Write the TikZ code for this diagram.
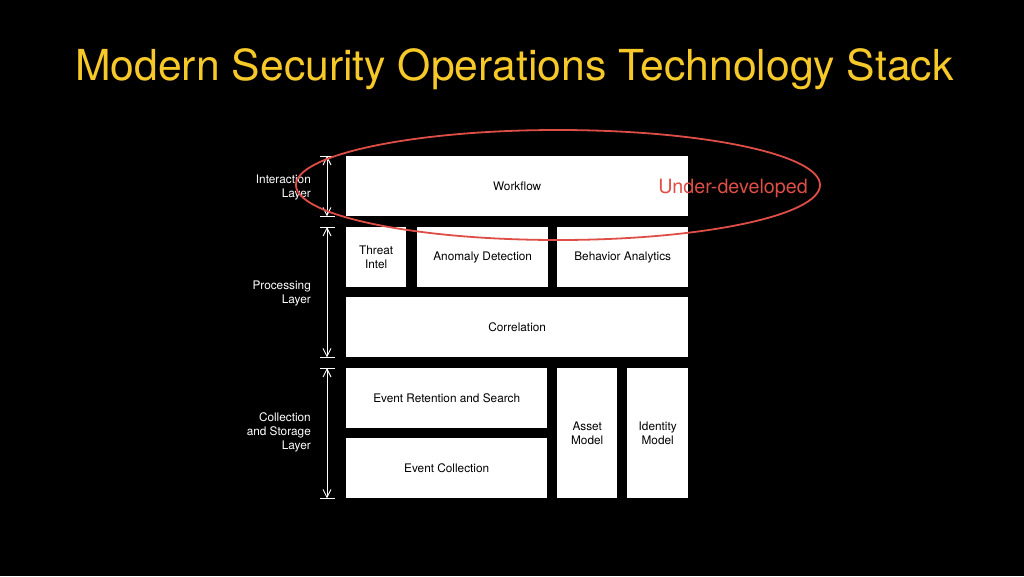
\documentclass[tikz,border=0pt]{standalone}
\usepackage{fontspec}
\setmainfont{TeX Gyre Heros}
\usetikzlibrary{arrows.meta}
\definecolor{titleyellow}{RGB}{247,201,40}
\definecolor{ovalred}{RGB}{222,78,70}
\begin{document}
\begin{tikzpicture}[x=1pt, y=-1pt,
    every node/.style={align=center, font=\fontsize{11.8}{14}\selectfont},
    block/.style={rectangle, fill=white, inner sep=0pt, anchor=north west},
    layerlabel/.style={text=white, anchor=east, align=right, inner sep=0pt},
    dimarrow/.style={draw=white, line width=0.9pt, {Straight Barb[length=8pt,width=8pt]}-{Straight Barb[length=8pt,width=8pt]}},
    dimtick/.style={draw=white, line width=0.9pt}]
    \fill[black] (0,0) rectangle (1024,576);

    % title
    \node (title) [anchor=base west, inner sep=0pt, text=titleyellow, font=\fontsize{42.7}{50}\selectfont] at (75,80) {Modern Security Operations Technology Stack};

    % stack blocks
    \node (wf) [block, minimum width=342pt, minimum height=60pt] at (346,156) {Workflow};
    \node (threat) [block, minimum width=60pt, minimum height=60pt] at (346,227) {Threat\\Intel};
    \node (anom) [block, minimum width=131pt, minimum height=60pt] at (417,227) {Anomaly Detection};
    \node (behav) [block, minimum width=131pt, minimum height=60pt] at (557,227) {Behavior Analytics};
    \node (corr) [block, minimum width=342pt, minimum height=60pt] at (346,297) {Correlation};
    \node (ret) [block, minimum width=201pt, minimum height=60pt] at (346,368) {Event Retention and Search};
    \node (coll) [block, minimum width=201pt, minimum height=60pt] at (346,438) {Event Collection};
    \node (asset) [block, minimum width=60pt, minimum height=130pt] at (557,368) {Asset\\Model};
    \node (ident) [block, minimum width=61pt, minimum height=130pt] at (627,368) {Identity\\Model};

    % layer labels
    \node (lint) [layerlabel] at (311,187) {Interaction\\Layer};
    \node (lproc) [layerlabel] at (311,293) {Processing\\Layer};
    \node (lcoll) [layerlabel] at (311,432) {Collection\\and Storage\\Layer};

    % layer extents
    \foreach \top/\bot in {wf/wf, threat/corr, ret/coll} {
        \draw[dimarrow] ([xshift=-19pt]\top.north west) -- ([xshift=-19pt]\bot.south west);
        \draw[dimtick] ([xshift=-26pt]\top.north west) -- ([xshift=-11pt]\top.north west);
        \draw[dimtick] ([xshift=-26pt]\bot.south west) -- ([xshift=-11pt]\bot.south west);
    }

    % under-developed mark
    \draw[ovalred, line width=1.8pt] (558,185) ellipse [x radius=262pt, y radius=55pt];
    \node (under) [text=ovalred, font=\fontsize{19.7}{22}\selectfont] at (733,188) {Under-developed};
\end{tikzpicture}
\end{document}
